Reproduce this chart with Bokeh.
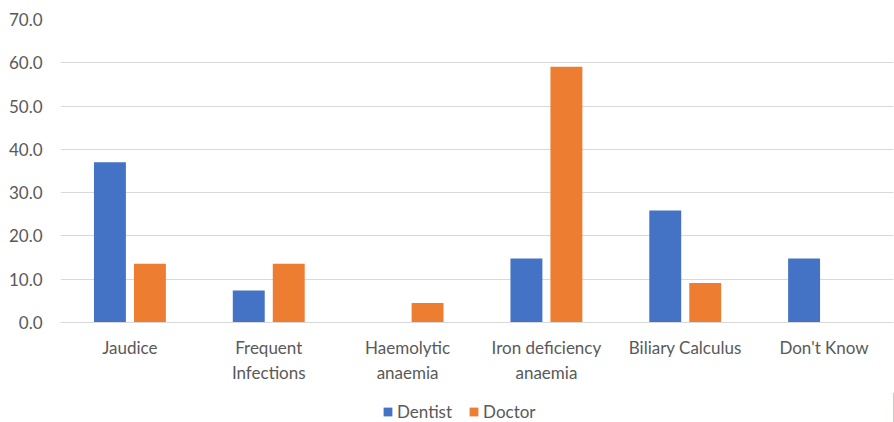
from bokeh.plotting import figure
from bokeh.layouts import column
from bokeh.models import ColumnDataSource, FactorRange, Range1d, FixedTicker, NumeralTickFormatter, Legend, LegendItem
from bokeh.transform import dodge
from bokeh.embed import file_html
from bokeh.resources import INLINE

categories = ["Jaudice", "Frequent\nInfections", "Haemolytic\nanaemia", "Iron deficiency\nanaemia", "Biliary Calculus", "Don't Know"]
dentist = [37.0, 7.4, 0.0, 14.8, 25.9, 14.8]
doctor = [13.6, 13.6, 4.5, 59.1, 9.1, 0.0]
series_names = ["Dentist", "Doctor"]
y_ticks = [0, 10, 20, 30, 40, 50, 60, 70]

BLUE = "#4472C4"
ORANGE = "#ED7D31"
FONT = "Lato"
GREY = "#595959"

src = ColumnDataSource(dict(cat=categories, dentist=dentist, doctor=doctor))

p = figure(frame_width=833, frame_height=303, x_range=FactorRange(*categories, range_padding=0),
           y_range=Range1d(0, 70), output_backend="svg", toolbar_location=None,
           min_border_left=60, min_border_right=1, min_border_top=19, min_border_bottom=70)
p.outline_line_color = None
p.background_fill_color = "white"

p.vbar(x=dodge("cat", -0.144, range=p.x_range), top="dentist", width=0.23, source=src,
       fill_color=BLUE, line_color=None)
p.vbar(x=dodge("cat", 0.144, range=p.x_range), top="doctor", width=0.23, source=src,
       fill_color=ORANGE, line_color=None)

p.xgrid.grid_line_color = None
p.ygrid.grid_line_color = "#d9d9d9"
p.ygrid.grid_line_width = 1
p.yaxis.ticker = FixedTicker(ticks=y_ticks)
p.yaxis.formatter = NumeralTickFormatter(format="0.0")
p.yaxis.axis_line_color = None
p.yaxis.major_tick_line_color = None
p.yaxis.minor_tick_line_color = None
p.yaxis.major_label_standoff = 12
p.xaxis.axis_line_color = "#d9d9d9"
p.xaxis.major_tick_line_color = None
p.xaxis.minor_tick_line_color = None
p.xaxis.major_label_standoff = 8
for ax in (p.xaxis, p.yaxis):
    ax.major_label_text_font = FONT
    ax.major_label_text_font_size = "17px"
    ax.major_label_text_color = GREY

# legend strip below the chart (legend swatches use off-screen helper renderers)
lg = figure(width=894, height=30, x_range=Range1d(0, 1), y_range=Range1d(0, 1),
            output_backend="svg", toolbar_location=None,
            min_border_left=0, min_border_right=0, min_border_top=0, min_border_bottom=0)
lg.axis.visible = False
lg.grid.visible = False
lg.outline_line_color = None
lr1 = lg.vbar(x=[5], top=[1], width=0.1, fill_color=BLUE, line_color=None)
lr2 = lg.vbar(x=[5], top=[1], width=0.1, fill_color=ORANGE, line_color=None)
legend = Legend(items=[LegendItem(label=series_names[0], renderers=[lr1]),
                       LegendItem(label=series_names[1], renderers=[lr2])],
                orientation="horizontal", location=(322, 0), border_line_color=None,
                background_fill_alpha=0,
                label_text_font=FONT, label_text_font_size="17px", label_text_color=GREY,
                label_height=18, glyph_width=11, glyph_height=11, spacing=16, label_standoff=4,
                padding=0, margin=0)
lg.add_layout(legend, "center")

open("out.html", "w").write(file_html(column(p, lg, spacing=0), INLINE))
